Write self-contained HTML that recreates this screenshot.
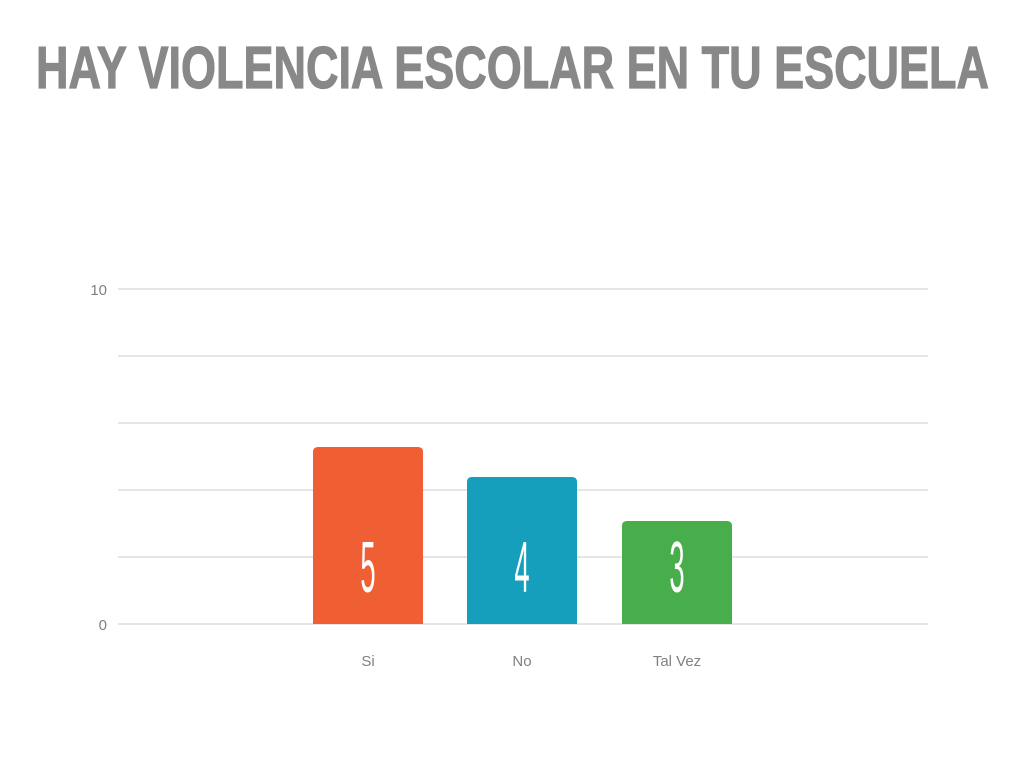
<!DOCTYPE html>
<html><head><meta charset="utf-8"><style>
html,body{margin:0;padding:0;background:#fff;}
</style></head><body>
<svg width="1024" height="768" xmlns="http://www.w3.org/2000/svg">
<text x="36" y="88" font-family="Liberation Sans, sans-serif" font-weight="bold" font-size="59" fill="#888888" textLength="953" lengthAdjust="spacingAndGlyphs" stroke="#888888" stroke-width="1.2">HAY VIOLENCIA ESCOLAR EN TU ESCUELA</text>
<g stroke="#dddddd" stroke-width="1.5">
<line x1="118" y1="289" x2="928" y2="289"/>
<line x1="118" y1="356" x2="928" y2="356"/>
<line x1="118" y1="423" x2="928" y2="423"/>
<line x1="118" y1="490" x2="928" y2="490"/>
<line x1="118" y1="557" x2="928" y2="557"/>
<line x1="118" y1="624" x2="928" y2="624"/>
</g>
<g font-family="Liberation Sans, sans-serif" font-size="15" fill="#808080">
<text x="107" y="295" text-anchor="end">10</text>
<text x="107" y="630" text-anchor="end">0</text>
<text x="368" y="666" text-anchor="middle">Si</text>
<text x="522" y="666" text-anchor="middle">No</text>
<text x="677" y="666" text-anchor="middle">Tal Vez</text>
</g>
<path d="M313,624 V452 Q313,447 318,447 H418 Q423,447 423,452 V624 Z" fill="#f05f34"/>
<path d="M467,624 V482 Q467,477 472,477 H572 Q577,477 577,482 V624 Z" fill="#159fbc"/>
<path d="M622,624 V526 Q622,521 627,521 H727 Q732,521 732,526 V624 Z" fill="#48ad4b"/>
<g font-family="Liberation Sans, sans-serif" font-size="72" fill="#fff" text-anchor="middle">
<text x="0" y="592" transform="translate(368,0) scale(0.38,1)">5</text>
<text x="0" y="592" transform="translate(522,0) scale(0.38,1)">4</text>
<text x="0" y="592" transform="translate(677,0) scale(0.38,1)">3</text>
</g>
</svg>
</body></html>
